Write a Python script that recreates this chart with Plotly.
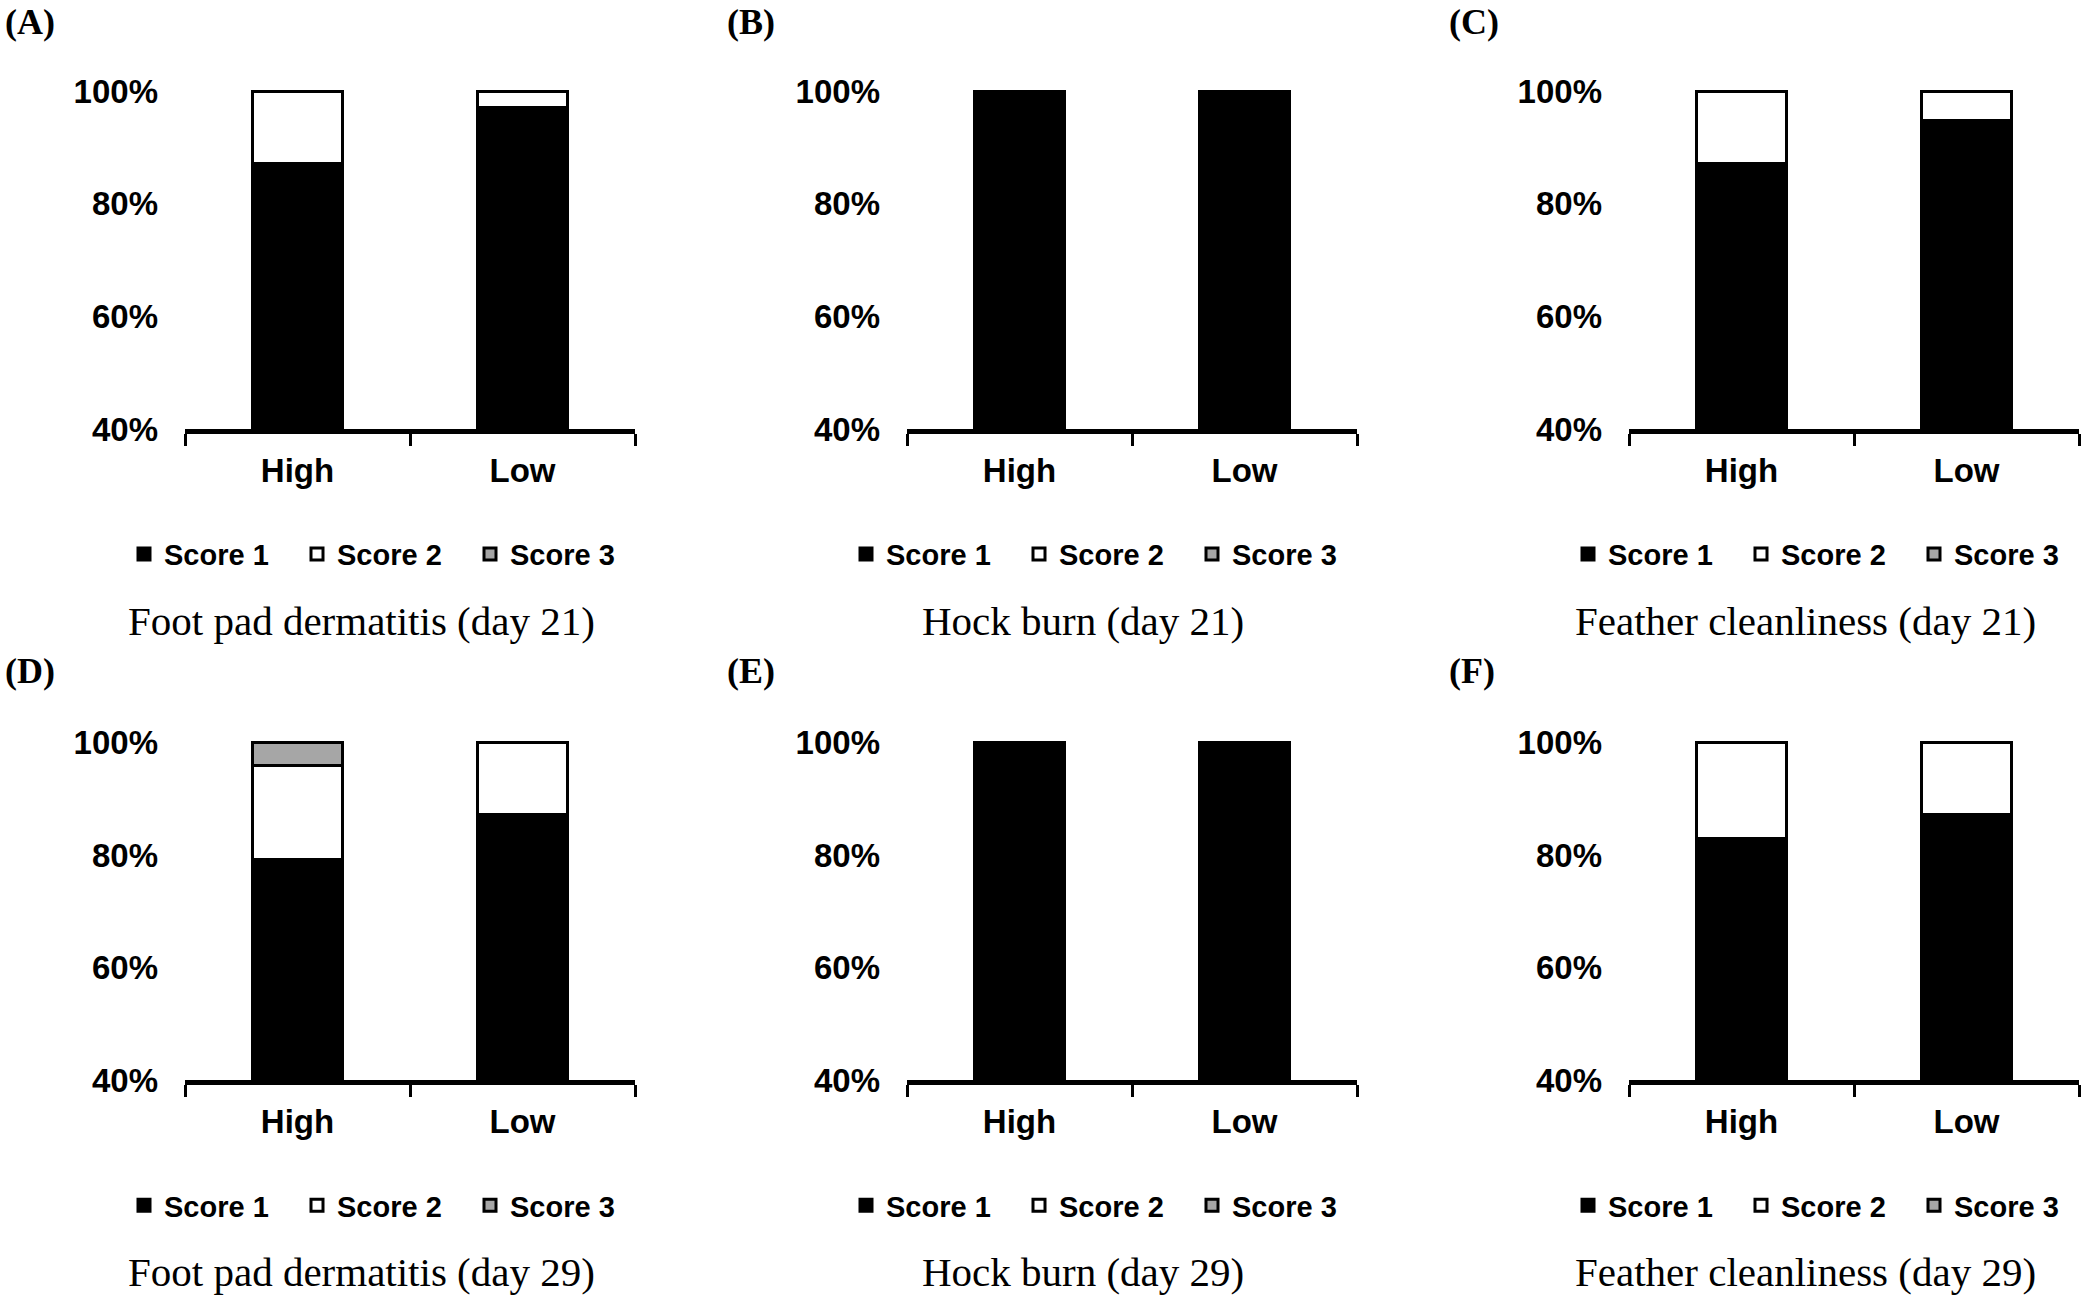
import plotly.graph_objects as go

# ---------------- data ----------------
categories = ["High", "Low"]
series_names = ["Score 1", "Score 2", "Score 3"]
series_colors = ["#000000", "#ffffff", "#a6a6a6"]

fpd21_s1 = [87.2, 97.0]
fpd21_s2 = [12.8, 3.0]
fpd21_s3 = [0.0, 0.0]

hb21_s1 = [100.0, 100.0]
hb21_s2 = [0.0, 0.0]
hb21_s3 = [0.0, 0.0]

fc21_s1 = [87.1, 94.7]
fc21_s2 = [12.9, 5.3]
fc21_s3 = [0.0, 0.0]

fpd29_s1 = [79.2, 87.1]
fpd29_s2 = [16.6, 12.9]
fpd29_s3 = [4.2, 0.0]

hb29_s1 = [100.0, 100.0]
hb29_s2 = [0.0, 0.0]
hb29_s3 = [0.0, 0.0]

fc29_s1 = [82.8, 87.1]
fc29_s2 = [17.2, 12.9]
fc29_s3 = [0.0, 0.0]

panel_labels = ["(A)", "(B)", "(C)", "(D)", "(E)", "(F)"]
panel_titles = [
    "Foot pad dermatitis (day 21)",
    "Hock burn (day 21)",
    "Feather cleanliness (day 21)",
    "Foot pad dermatitis (day 29)",
    "Hock burn (day 29)",
    "Feather cleanliness (day 29)",
]
y_tickvals = [40, 60, 80, 100]
y_ticktext = ["40%", "60%", "80%", "100%"]

panels = [
    (fpd21_s1, fpd21_s2, fpd21_s3),
    (hb21_s1, hb21_s2, hb21_s3),
    (fc21_s1, fc21_s2, fc21_s3),
    (fpd29_s1, fpd29_s2, fpd29_s3),
    (hb29_s1, hb29_s2, hb29_s3),
    (fc29_s1, fc29_s2, fc29_s3),
]

# ---------------- layout geometry (pixels) ----------------
W, H = 2088, 1299
COL_DX = 722
ROW_DY = 651
AX_X0 = 185
AX_W = 450
Y40 = 427.5
Y100 = 90.0
YTOP_VAL = 100.8


def Y(y):
    # vertical placement correction (screenshot vertical mapping)
    return (y - 12.8) / 0.974


SANS = "Liberation Sans, Arial, sans-serif"
SERIF = "Liberation Serif, Times New Roman, serif"

fig = go.Figure()
annotations = []
layout_axes = {}

for i, (s1, s2, s3) in enumerate(panels):
    r, c = divmod(i, 3)
    idx = "" if i == 0 else str(i + 1)
    xa, ya = "x" + idx, "y" + idx
    leg = "legend" + idx

    x0 = AX_X0 + COL_DX * c
    x1 = x0 + AX_W
    bottom = Y(Y40 + ROW_DY * r)
    y100 = Y(Y100 + ROW_DY * r)
    px_per = (bottom - y100) / 60.0
    top = y100 - (YTOP_VAL - 100) * px_per

    for name, vals, col in zip(series_names, (s1, s2, s3), series_colors):
        fig.add_trace(go.Bar(
            x=categories, y=vals, name=name,
            xaxis=xa, yaxis=ya, legend=leg,
            width=0.40,
            marker=dict(color=col, line=dict(color="#000000", width=3)),
            hoverinfo="skip",
        ))

    layout_axes["xaxis" + idx] = dict(
        domain=[x0 / W, x1 / W], anchor=ya,
        type="category", categoryorder="array", categoryarray=categories,
        range=[-0.5, 1.5], tickson="boundaries",
        ticks="outside", ticklen=12, tickwidth=3, tickcolor="#000000",
        showline=True, linewidth=5, linecolor="#000000",
        showgrid=False, zeroline=False,
        ticklabelstandoff=8,
        tickfont=dict(family=SANS, size=33, color="#000000", weight="bold"),
        fixedrange=True,
    )
    layout_axes["yaxis" + idx] = dict(
        domain=[1 - bottom / H, 1 - top / H], anchor=xa,
        range=[40, YTOP_VAL], tickvals=y_tickvals, ticktext=y_ticktext,
        showline=False, showgrid=False, zeroline=False, ticks="",
        ticklabelstandoff=26,
        tickfont=dict(family=SANS, size=33, color="#000000", weight="bold"),
        fixedrange=True,
    )
    layout_axes[leg] = dict(
        orientation="h", traceorder="normal",
        x=(124 + COL_DX * c) / W, xanchor="left",
        y=1 - Y(552.5 + ROW_DY * r) / H, yanchor="middle",
        font=dict(family=SANS, size=29, color="#000000", weight="bold"),
        bgcolor="rgba(0,0,0,0)",
        entrywidth=128, entrywidthmode="pixels",
        itemclick=False, itemdoubleclick=False,
    )

    annotations.append(dict(
        text=panel_labels[i], xref="paper", yref="paper",
        x=(3 + COL_DX * c) / W, y=1 - Y(21 + (ROW_DY - 3) * r) / H,
        xanchor="left", yanchor="middle", showarrow=False,
        font=dict(family=SERIF, size=36, color="#000000", weight="bold"),
    ))
    annotations.append(dict(
        text=panel_titles[i], xref="paper", yref="paper",
        x=(361 + COL_DX * c) / W, y=1 - Y(619 + ROW_DY * r) / H,
        xanchor="center", yanchor="middle", showarrow=False,
        font=dict(family=SERIF, size=41, color="#000000"),
    ))

fig.update_layout(
    width=W, height=H,
    margin=dict(l=0, r=0, t=0, b=0),
    paper_bgcolor="#ffffff", plot_bgcolor="#ffffff",
    barmode="stack", bargap=0,
    showlegend=True,
    annotations=annotations,
    **layout_axes,
)

fig.write_html(
    "out.html",
    config={"displayModeBar": False, "staticPlot": False},
    post_script="document.body.style.margin='0';document.body.style.overflow='hidden';",
)
